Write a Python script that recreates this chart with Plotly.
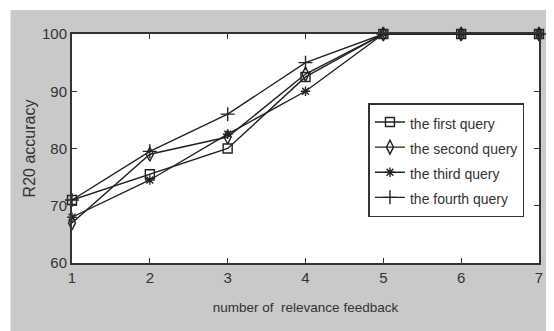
import plotly.graph_objects as go

feedback = [1, 2, 3, 4, 5, 6, 7]
first_query = [71, 75.5, 80, 92.5, 100, 100, 100]
second_query = [67, 79, 82, 93, 100, 100, 100]
third_query = [68, 74.5, 82.5, 90, 100, 100, 100]
fourth_query = [71, 79.5, 86, 95, 100, 100, 100]
series_names = ["the first query", "the second query", "the third query", "the fourth query"]
x_ticks = [1, 2, 3, 4, 5, 6, 7]
y_ticks = [60, 70, 80, 90, 100]

# page body has an 8px margin, so the figure is a bit smaller than the window
OFF = 8
W, H = 554 - OFF, 331 - OFF
L, T = 72 - OFF, 34 - OFF
pw, ph = 471, 229
R = W - L - pw
B = H - T - ph

fnt = "Liberation Sans, Arial, sans-serif"

fig = go.Figure()
styles = [
    dict(symbol="square-open", size=9),
    dict(symbol="diamond-tall-open", size=10),
    dict(symbol="asterisk-open", size=8),
    dict(symbol="cross-thin-open", size=10),
]
for name, vals, st in zip(series_names, [first_query, second_query, third_query, fourth_query], styles):
    fig.add_trace(go.Scatter(
        x=feedback, y=vals, mode="lines+markers",
        name="<span style='font-size:14px'>" + name + "</span>",
        line=dict(color="#222222", width=1.4),
        marker=dict(symbol=st["symbol"], size=st["size"], color="#222222",
                    line=dict(color="#222222", width=1.4)),
        cliponaxis=False,
    ))

# gray figure panel (white border around it)
gx0 = (10 - OFF - L) / pw
gx1 = (W - L) / pw
gy1 = (T + ph - (10 - OFF)) / ph
gy0 = (T + ph - H) / ph
fig.add_shape(type="rect", xref="paper", yref="paper", x0=gx0, x1=gx1, y0=gy0, y1=gy1,
              fillcolor="#c9c9c9", line=dict(width=0), layer="below")
fig.add_shape(type="rect", xref="paper", yref="paper", x0=0, x1=1, y0=0, y1=1,
              fillcolor="white", line=dict(width=0), layer="below")

axis_common = dict(
    showline=True, linecolor="#333333", linewidth=2, mirror="ticks",
    ticks="inside", ticklen=5, tickcolor="#333333", tickwidth=1,
    showgrid=False, zeroline=False,
    tickfont=dict(family=fnt, size=15, color="#333333"),
)
fig.update_xaxes(range=[1, 7], tickvals=x_ticks, **axis_common,
                 title=dict(text="number of  relevance feedback",
                            font=dict(family=fnt, size=13.5, color="#333333"), standoff=18))
fig.update_yaxes(range=[60, 100], tickvals=y_ticks, **axis_common,
                 title=dict(text="R20 accuracy",
                            font=dict(family=fnt, size=16, color="#333333"), standoff=2))

fig.update_layout(
    width=W, height=H,
    margin=dict(l=L, r=R, t=T, b=B, pad=0),
    paper_bgcolor="white", plot_bgcolor="white",
    showlegend=True,
    legend=dict(
        x=(371 - OFF - L) / pw, y=(T + ph - (103 - OFF)) / ph,
        xanchor="left", yanchor="top",
        bgcolor="white", bordercolor="#333333", borderwidth=1.5,
        font=dict(family=fnt, size=17, color="#333333"),
        itemwidth=30, tracegroupgap=0,
    ),
)

fig.write_html("out.html")
